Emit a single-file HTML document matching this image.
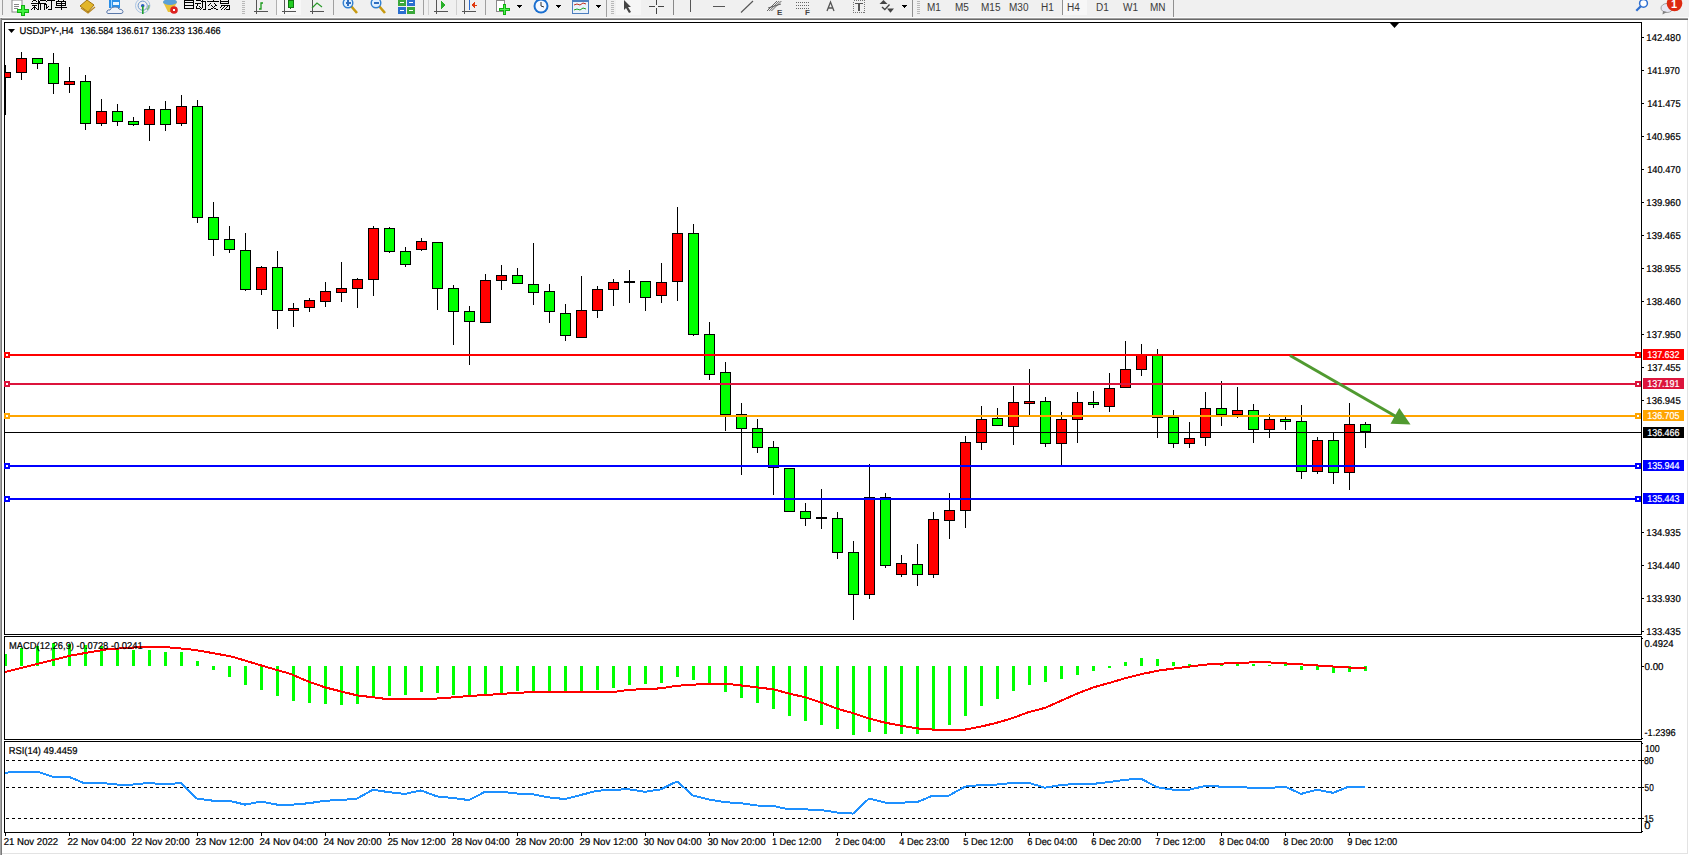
<!DOCTYPE html><html><head><meta charset="utf-8"><style>html,body{margin:0;padding:0;background:#fff;overflow:hidden}svg{display:block}text{font-family:"Liberation Sans",sans-serif}</style></head><body>
<svg width="1689" height="855" viewBox="0 0 1689 855" shape-rendering="crispEdges">
<rect x="0" y="0" width="1689" height="855" fill="#ffffff"/>
<rect x="0" y="0" width="1689" height="17" fill="#f0f0f0"/>
<rect x="0" y="17" width="1689" height="1" fill="#fbfbfb"/>
<rect x="0" y="18" width="1688" height="1" fill="#a0a0a0"/>
<rect x="0" y="19" width="1688" height="1" fill="#6a6a6a"/>
<rect x="0" y="18" width="1" height="837" fill="#a4a4a4"/>
<rect x="1" y="18" width="1" height="837" fill="#7a7a7a"/>
<rect x="1687" y="20" width="1" height="834" fill="#e3e3e3"/>
<rect x="2" y="853" width="1686" height="1" fill="#e3e3e3"/>
<g><rect x="2" y="0" width="1" height="15" fill="#a0a0a0"/><rect x="12" y="0" width="10" height="12" fill="#fff" stroke="#8a8a8a" stroke-width="1" shape-rendering="auto"/><rect x="14" y="4" width="5" height="1" fill="#888"/><rect x="14" y="6" width="5" height="1" fill="#888"/><rect x="14" y="8" width="4" height="1" fill="#888"/><rect x="21" y="5" width="4" height="11" fill="#10b010"/><rect x="17" y="9" width="12" height="4" fill="#10b010"/><rect x="22" y="6" width="2" height="9" fill="#40f040"/><rect x="18" y="10" width="10" height="2" fill="#40f040"/><rect x="33" y="0" width="3" height="1" fill="#000"/><rect x="32" y="1" width="1" height="1" fill="#000"/><rect x="36" y="1" width="1" height="1" fill="#000"/><rect x="31" y="3" width="7" height="1" fill="#000"/><rect x="32" y="5" width="5" height="1" fill="#000"/><rect x="34" y="5" width="1" height="5" fill="#000"/><rect x="33" y="7" width="1" height="1" fill="#000"/><rect x="32" y="8" width="1" height="1" fill="#000"/><rect x="31" y="9" width="1" height="1" fill="#000"/><rect x="35" y="7" width="1" height="1" fill="#000"/><rect x="36" y="8" width="1" height="1" fill="#000"/><rect x="37" y="9" width="1" height="1" fill="#000"/><rect x="38" y="0" width="1" height="10" fill="#000"/><rect x="40" y="0" width="5" height="1" fill="#000"/><rect x="38" y="3" width="8" height="1" fill="#000"/><rect x="40" y="4" width="1" height="6" fill="#000"/><rect x="44" y="3" width="1" height="7" fill="#000"/><rect x="39" y="1" width="1" height="1" fill="#000"/><rect x="39" y="2" width="1" height="1" fill="#000"/><rect x="45" y="0" width="1" height="1" fill="#000"/><rect x="46" y="1" width="1" height="1" fill="#000"/><rect x="45" y="4" width="2" height="1" fill="#000"/><rect x="46" y="4" width="1" height="5" fill="#000"/><rect x="47" y="7" width="1" height="1" fill="#000"/><rect x="48" y="6" width="1" height="1" fill="#000"/><rect x="47" y="0" width="8" height="1" fill="#000"/><rect x="51" y="0" width="1" height="10" fill="#000"/><rect x="48" y="9" width="3" height="1" fill="#000"/><rect x="58" y="0" width="1" height="1" fill="#000"/><rect x="63" y="0" width="1" height="1" fill="#000"/><rect x="56" y="1" width="10" height="1" fill="#000"/><rect x="56" y="3" width="10" height="1" fill="#000"/><rect x="56" y="5" width="10" height="1" fill="#000"/><rect x="56" y="1" width="1" height="5" fill="#000"/><rect x="65" y="1" width="1" height="5" fill="#000"/><rect x="61" y="1" width="1" height="9" fill="#000"/><rect x="55" y="7" width="12" height="1" fill="#000"/><rect x="184" y="0" width="1" height="9" fill="#000"/><rect x="193" y="0" width="1" height="9" fill="#000"/><rect x="185" y="0" width="8" height="1" fill="#000"/><rect x="185" y="2" width="8" height="1" fill="#000"/><rect x="185" y="5" width="8" height="1" fill="#000"/><rect x="185" y="8" width="8" height="1" fill="#000"/><rect x="196" y="0" width="5" height="1" fill="#000"/><rect x="195" y="3" width="6" height="1" fill="#000"/><rect x="197" y="4" width="1" height="1" fill="#000"/><rect x="197" y="5" width="1" height="1" fill="#000"/><rect x="196" y="6" width="1" height="1" fill="#000"/><rect x="196" y="7" width="1" height="1" fill="#000"/><rect x="196" y="8" width="4" height="1" fill="#000"/><rect x="199" y="6" width="1" height="1" fill="#000"/><rect x="200" y="7" width="1" height="1" fill="#000"/><rect x="201" y="1" width="5" height="1" fill="#000"/><rect x="205" y="1" width="1" height="8" fill="#000"/><rect x="203" y="9" width="3" height="1" fill="#000"/><rect x="202" y="0" width="1" height="7" fill="#000"/><rect x="202" y="7" width="1" height="1" fill="#000"/><rect x="201" y="8" width="1" height="1" fill="#000"/><rect x="200" y="9" width="1" height="1" fill="#000"/><rect x="213" y="0" width="1" height="1" fill="#000"/><rect x="207" y="1" width="12" height="1" fill="#000"/><rect x="210" y="3" width="1" height="1" fill="#000"/><rect x="209" y="4" width="1" height="1" fill="#000"/><rect x="208" y="5" width="1" height="1" fill="#000"/><rect x="214" y="3" width="1" height="1" fill="#000"/><rect x="215" y="4" width="1" height="1" fill="#000"/><rect x="216" y="5" width="1" height="1" fill="#000"/><rect x="211" y="5" width="1" height="1" fill="#000"/><rect x="212" y="6" width="1" height="1" fill="#000"/><rect x="213" y="7" width="1" height="1" fill="#000"/><rect x="214" y="8" width="1" height="1" fill="#000"/><rect x="215" y="8" width="1" height="1" fill="#000"/><rect x="216" y="9" width="1" height="1" fill="#000"/><rect x="217" y="9" width="1" height="1" fill="#000"/><rect x="215" y="5" width="1" height="1" fill="#000"/><rect x="214" y="6" width="1" height="1" fill="#000"/><rect x="213" y="7" width="1" height="1" fill="#000"/><rect x="212" y="8" width="1" height="1" fill="#000"/><rect x="211" y="8" width="1" height="1" fill="#000"/><rect x="210" y="9" width="1" height="1" fill="#000"/><rect x="209" y="9" width="1" height="1" fill="#000"/><rect x="208" y="9" width="1" height="1" fill="#000"/><rect x="220" y="0" width="1" height="4" fill="#000"/><rect x="228" y="0" width="1" height="4" fill="#000"/><rect x="221" y="1" width="7" height="1" fill="#000"/><rect x="221" y="3" width="7" height="1" fill="#000"/><rect x="221" y="5" width="9" height="1" fill="#000"/><rect x="229" y="5" width="1" height="5" fill="#000"/><rect x="226" y="9" width="3" height="1" fill="#000"/><rect x="221" y="6" width="1" height="1" fill="#000"/><rect x="220" y="7" width="1" height="1" fill="#000"/><rect x="224" y="6" width="1" height="1" fill="#000"/><rect x="223" y="7" width="1" height="1" fill="#000"/><rect x="222" y="8" width="1" height="1" fill="#000"/><rect x="221" y="9" width="1" height="1" fill="#000"/><rect x="227" y="6" width="1" height="1" fill="#000"/><rect x="226" y="7" width="1" height="1" fill="#000"/><rect x="225" y="8" width="1" height="1" fill="#000"/><rect x="224" y="9" width="1" height="1" fill="#000"/><path d="M80 6 L87 0 L94 5 L88 12 Z" fill="#e2b629" stroke="#a37512" stroke-width="1" shape-rendering="auto"/><path d="M81 8 L88 13 L95 7" fill="none" stroke="#b8861c" stroke-width="1.2" shape-rendering="auto"/><rect x="109" y="0" width="11" height="8" fill="#2a8ee8" shape-rendering="auto"/><rect x="111" y="0" width="1" height="8" fill="#9fd3ff"/><rect x="113" y="2" width="6" height="3" fill="#e8f4ff"/><path d="M108 13.5 Q106 13 107 11 Q108 9.5 110 10 Q111 6.5 115 7 Q118 6.5 119 9 Q122.5 9 123 11.5 Q123 13.5 121 13.5 Z" fill="#eef1f8" stroke="#5a78a8" stroke-width="1" shape-rendering="auto"/><circle cx="142.7" cy="5.7" r="7.2" fill="none" stroke="#a9c4e4" stroke-width="1" shape-rendering="auto"/><circle cx="142.7" cy="5.7" r="4.6" fill="none" stroke="#6e98cc" stroke-width="1" shape-rendering="auto"/><circle cx="142.7" cy="5.7" r="1.8" fill="#2a5fc0" shape-rendering="auto"/><path d="M147 10 A6 6 0 0 0 149 5" fill="none" stroke="#7cb87c" stroke-width="1.5" shape-rendering="auto"/><rect x="142" y="6" width="1.6" height="8" fill="#22a030" shape-rendering="auto"/><path d="M163 2 Q170 -2 177 2 L172 12 L168 12 Z" fill="#e8c23a" shape-rendering="auto"/><ellipse cx="170" cy="2" rx="7" ry="3" fill="#5aa0d8" shape-rendering="auto"/><circle cx="174" cy="10" r="3.8" fill="#dd2222" shape-rendering="auto"/><rect x="173" y="9" width="2.4" height="2.4" fill="#fff"/><rect x="242" y="1" width="3" height="1" fill="#b8b8b8"/><rect x="242" y="3" width="3" height="1" fill="#b8b8b8"/><rect x="242" y="5" width="3" height="1" fill="#b8b8b8"/><rect x="242" y="7" width="3" height="1" fill="#b8b8b8"/><rect x="242" y="9" width="3" height="1" fill="#b8b8b8"/><rect x="242" y="11" width="3" height="1" fill="#b8b8b8"/><rect x="242" y="13" width="3" height="1" fill="#b8b8b8"/><rect x="256" y="0" width="1" height="14" fill="#555"/><rect x="254" y="11" width="14" height="1" fill="#555"/><path d="M259 9 L261 9 L261 3 L263 3" fill="none" stroke="#1a9a1a" stroke-width="1.3" shape-rendering="auto"/><rect x="276" y="0" width="1" height="15" fill="#b0b0b0"/><rect x="277" y="0" width="24" height="15" fill="#f7f7f7"/><rect x="284" y="0" width="1" height="14" fill="#555"/><rect x="282" y="11" width="14" height="1" fill="#555"/><rect x="288" y="0" width="5" height="7" fill="#22cc22" stroke="#117711" stroke-width="1"/><rect x="290" y="7" width="1" height="2" fill="#117711"/><rect x="312" y="0" width="1" height="14" fill="#555"/><rect x="310" y="11" width="14" height="1" fill="#555"/><path d="M312 8 L317 3 L322 7" fill="none" stroke="#2a9a2a" stroke-width="1.2" shape-rendering="auto"/><rect x="333" y="0" width="1" height="15" fill="#a0a0a0"/><line x1="351" y1="6" x2="357" y2="13" stroke="#c79a10" stroke-width="2.6" shape-rendering="auto"/><circle cx="348" cy="3" r="4.8" fill="#dff0ff" stroke="#2f7fd0" stroke-width="1.4" shape-rendering="auto"/><rect x="345.5" y="2.3" width="5" height="1.4" fill="#2f6fc0"/><rect x="347.3" y="0" width="1.4" height="5.5" fill="#2f6fc0"/><line x1="379" y1="6" x2="385" y2="13" stroke="#c79a10" stroke-width="2.6" shape-rendering="auto"/><circle cx="376" cy="3" r="4.8" fill="#dff0ff" stroke="#2f7fd0" stroke-width="1.4" shape-rendering="auto"/><rect x="373.5" y="2.3" width="5" height="1.4" fill="#2f6fc0"/><rect x="398" y="0" width="8" height="6" fill="#3ba83b"/><rect x="407" y="0" width="8" height="6" fill="#2b6fd0"/><rect x="398" y="7" width="8" height="7" fill="#2b6fd0"/><rect x="407" y="7" width="8" height="7" fill="#3ba83b"/><rect x="400" y="2" width="4" height="1" fill="#fff"/><rect x="409" y="2" width="4" height="1" fill="#fff"/><rect x="400" y="10" width="4" height="1" fill="#fff"/><rect x="409" y="10" width="4" height="1" fill="#fff"/><rect x="423" y="0" width="1" height="15" fill="#a0a0a0"/><rect x="428" y="0" width="1" height="15" fill="#d0d0d0"/><rect x="436" y="0" width="1" height="14" fill="#555"/><rect x="434" y="11" width="14" height="1" fill="#555"/><path d="M441 1 L446 5 L441 9 Z" fill="#2ab02a"/><rect x="456" y="0" width="1" height="15" fill="#d0d0d0"/><rect x="464" y="0" width="1" height="14" fill="#555"/><rect x="462" y="11" width="14" height="1" fill="#555"/><rect x="469" y="0" width="1" height="10" fill="#2a6ad0"/><path d="M471 5 L475 2 L475 8 Z" fill="#e03a10"/><rect x="473" y="4.5" width="4" height="1" fill="#e03a10"/><rect x="485" y="0" width="1" height="15" fill="#a0a0a0"/><rect x="496" y="0" width="8" height="11" fill="#fff" stroke="#8a8a8a" stroke-width="1"/><rect x="503" y="4" width="3" height="11" fill="#10b010"/><rect x="499" y="8" width="11" height="3" fill="#10b010"/><rect x="504" y="5" width="1" height="9" fill="#50f050"/><rect x="500" y="9" width="9" height="1" fill="#50f050"/><path d="M516 5 L522 5 L519 8 Z" fill="#000"/><circle cx="541" cy="6" r="7.5" fill="#1a6fd0" shape-rendering="auto"/><circle cx="541" cy="6" r="5.5" fill="#f4f8ff" shape-rendering="auto"/><path d="M541 2 L541 6 L544 7" fill="none" stroke="#333" stroke-width="1" shape-rendering="auto"/><path d="M555 5 L561 5 L558 8 Z" fill="#000"/><rect x="572" y="0" width="16" height="13" fill="#eaf2fb" stroke="#4d7fbf" stroke-width="1"/><rect x="572" y="0" width="16" height="2" fill="#4d7fbf"/><path d="M574 5 L577 4 L580 5 L583 3 L586 4" fill="none" stroke="#c03020" stroke-width="1" shape-rendering="auto"/><path d="M574 10 L577 9 L580 10 L583 8 L586 9" fill="none" stroke="#20a020" stroke-width="1" shape-rendering="auto"/><path d="M595 5 L601 5 L598 8 Z" fill="#000"/><rect x="606" y="0" width="1" height="17" fill="#a0a0a0"/><rect x="611" y="1" width="3" height="1" fill="#b8b8b8"/><rect x="611" y="3" width="3" height="1" fill="#b8b8b8"/><rect x="611" y="5" width="3" height="1" fill="#b8b8b8"/><rect x="611" y="7" width="3" height="1" fill="#b8b8b8"/><rect x="611" y="9" width="3" height="1" fill="#b8b8b8"/><rect x="611" y="11" width="3" height="1" fill="#b8b8b8"/><rect x="611" y="13" width="3" height="1" fill="#b8b8b8"/><rect x="616" y="0" width="25" height="15" fill="#f6f6f6"/><path d="M624 0 L624 10 L626 8 L629 13 L631 12 L628 7 L631 7 Z" fill="#444" shape-rendering="auto"/><rect x="649" y="6" width="6" height="1" fill="#444"/><rect x="658" y="6" width="6" height="1" fill="#444"/><rect x="656" y="0" width="1" height="5" fill="#444"/><rect x="656" y="8" width="1" height="6" fill="#444"/><rect x="673" y="0" width="1" height="15" fill="#888"/><rect x="690" y="0" width="1" height="12" fill="#555"/><rect x="713" y="6" width="12" height="1" fill="#555"/><line x1="741" y1="12.5" x2="753" y2="1" stroke="#555" stroke-width="1.1" shape-rendering="auto"/><line x1="767.0" y1="11" x2="777.0" y2="1" stroke="#555" stroke-width="0.9" shape-rendering="auto"/><line x1="769.2" y1="11" x2="779.2" y2="1" stroke="#555" stroke-width="0.9" shape-rendering="auto"/><line x1="771.4" y1="11" x2="781.4" y2="1" stroke="#555" stroke-width="0.9" shape-rendering="auto"/><line x1="768" y1="8" x2="781" y2="4" stroke="#555" stroke-width="0.9" shape-rendering="auto"/><text x="777" y="15" font-size="8" font-weight="bold" fill="#444">E</text><line x1="796" y1="2.5" x2="809" y2="2.5" stroke="#666" stroke-width="1" stroke-dasharray="1,1"/><line x1="796" y1="5.5" x2="809" y2="5.5" stroke="#666" stroke-width="1" stroke-dasharray="1,1"/><line x1="796" y1="8.5" x2="809" y2="8.5" stroke="#666" stroke-width="1" stroke-dasharray="1,1"/><text x="805" y="15" font-size="8" font-weight="bold" fill="#444">F</text><path d="M827 11 L830.5 2 L834 11 M828.3 8 L832.7 8" fill="none" stroke="#555" stroke-width="1.3" shape-rendering="auto"/><rect x="853.5" y="0.5" width="11" height="12" fill="none" stroke="#777" stroke-width="1" stroke-dasharray="1,1"/><rect x="855" y="3" width="8" height="1.4" fill="#555"/><rect x="858.3" y="3" width="1.6" height="8" fill="#555"/><path d="M883.5 0 L887.5 4 L879.5 4 Z" fill="#444" shape-rendering="auto"/><path d="M882 7 L884.8 9.6 L889.5 4.5" fill="none" stroke="#444" stroke-width="1.4" shape-rendering="auto"/><path d="M887 8.5 L894 8.5 L890.5 12.8 Z" fill="#444" shape-rendering="auto"/><path d="M901 5 L907 5 L904 8 Z" fill="#000"/><rect x="912" y="0" width="1" height="17" fill="#909090"/><rect x="917" y="1" width="3" height="1" fill="#b8b8b8"/><rect x="917" y="3" width="3" height="1" fill="#b8b8b8"/><rect x="917" y="5" width="3" height="1" fill="#b8b8b8"/><rect x="917" y="7" width="3" height="1" fill="#b8b8b8"/><rect x="917" y="9" width="3" height="1" fill="#b8b8b8"/><rect x="917" y="11" width="3" height="1" fill="#b8b8b8"/><rect x="917" y="13" width="3" height="1" fill="#b8b8b8"/><rect x="1062" y="0" width="1" height="15" fill="#909090"/><rect x="1063" y="0" width="24" height="15" fill="#f7f7f7"/><text x="927" y="10.5" font-size="10" fill="#3a3a3a">M1</text><text x="955" y="10.5" font-size="10" fill="#3a3a3a">M5</text><text x="981" y="10.5" font-size="10" fill="#3a3a3a">M15</text><text x="1009" y="10.5" font-size="10" fill="#3a3a3a">M30</text><text x="1041" y="10.5" font-size="10" fill="#3a3a3a">H1</text><text x="1067" y="10.5" font-size="10" fill="#3a3a3a">H4</text><text x="1096" y="10.5" font-size="10" fill="#3a3a3a">D1</text><text x="1123" y="10.5" font-size="10" fill="#3a3a3a">W1</text><text x="1150" y="10.5" font-size="10" fill="#3a3a3a">MN</text><rect x="1173" y="0" width="1" height="17" fill="#909090"/><circle cx="1643.5" cy="3.3" r="3.9" fill="#fff" stroke="#2f6fd0" stroke-width="1.5" shape-rendering="auto"/><line x1="1640.8" y1="6.2" x2="1636.3" y2="10.8" stroke="#2f6fd0" stroke-width="2.2" shape-rendering="auto"/><ellipse cx="1667" cy="8" rx="6" ry="4.5" fill="#e6e6f2" stroke="#a0a0a0" stroke-width="1" shape-rendering="auto"/><path d="M1663 11 L1662.5 14.5 L1667 12 Z" fill="#808080" shape-rendering="auto"/><circle cx="1674.5" cy="3.5" r="7.8" fill="#dd2a10" shape-rendering="auto"/><text x="1671" y="7.5" font-family="Liberation Serif" font-size="11" font-weight="bold" fill="#fff">1</text></g>
<rect x="4" y="22" width="1638" height="1" fill="#000"/>
<rect x="4" y="634" width="1638" height="1" fill="#000"/>
<rect x="4" y="22" width="1" height="613" fill="#000"/>
<rect x="1641" y="22" width="1" height="613" fill="#000"/>
<rect x="4" y="636" width="1638" height="1" fill="#000"/>
<rect x="4" y="739" width="1638" height="1" fill="#000"/>
<rect x="4" y="636" width="1" height="104" fill="#000"/>
<rect x="1641" y="636" width="1" height="104" fill="#000"/>
<rect x="4" y="741" width="1638" height="1" fill="#000"/>
<rect x="4" y="832" width="1638" height="1" fill="#000"/>
<rect x="4" y="741" width="1" height="92" fill="#000"/>
<rect x="1641" y="741" width="1" height="92" fill="#000"/>
<rect x="1642" y="638" width="1" height="1" fill="#000"/>
<rect x="1642" y="738" width="1" height="1" fill="#000"/>
<rect x="1642" y="743" width="1" height="1" fill="#000"/>
<rect x="1642" y="831" width="1" height="1" fill="#000"/>
<path d="M1390 23 L1399 23 L1394.5 28 Z" fill="#000" shape-rendering="auto"/>
<defs><clipPath id="cm"><rect x="5" y="23" width="1636" height="611"/></clipPath><clipPath id="cmacd"><rect x="5" y="637" width="1636" height="102"/></clipPath><clipPath id="crsi"><rect x="5" y="742" width="1636" height="90"/></clipPath></defs>
<g clip-path="url(#cm)"><rect x="5" y="65" width="1" height="50" fill="#000"/><rect x="0" y="72" width="11" height="6" fill="#000"/><rect x="1" y="73" width="9" height="4" fill="#ff0000"/><rect x="21" y="52" width="1" height="28" fill="#000"/><rect x="16" y="58" width="11" height="15" fill="#000"/><rect x="17" y="59" width="9" height="13" fill="#ff0000"/><rect x="37" y="58" width="1" height="11" fill="#000"/><rect x="32" y="58" width="11" height="6" fill="#000"/><rect x="33" y="59" width="9" height="4" fill="#00ff00"/><rect x="53" y="53" width="1" height="41" fill="#000"/><rect x="48" y="63" width="11" height="21" fill="#000"/><rect x="49" y="64" width="9" height="19" fill="#00ff00"/><rect x="69" y="67" width="1" height="26" fill="#000"/><rect x="64" y="81" width="11" height="4" fill="#000"/><rect x="65" y="82" width="9" height="2" fill="#ff0000"/><rect x="85" y="75" width="1" height="55" fill="#000"/><rect x="80" y="81" width="11" height="43" fill="#000"/><rect x="81" y="82" width="9" height="41" fill="#00ff00"/><rect x="101" y="99" width="1" height="27" fill="#000"/><rect x="96" y="111" width="11" height="13" fill="#000"/><rect x="97" y="112" width="9" height="11" fill="#ff0000"/><rect x="117" y="104" width="1" height="22" fill="#000"/><rect x="112" y="111" width="11" height="11" fill="#000"/><rect x="113" y="112" width="9" height="9" fill="#00ff00"/><rect x="133" y="117" width="1" height="9" fill="#000"/><rect x="128" y="121" width="11" height="4" fill="#000"/><rect x="129" y="122" width="9" height="2" fill="#00ff00"/><rect x="149" y="106" width="1" height="35" fill="#000"/><rect x="144" y="109" width="11" height="16" fill="#000"/><rect x="145" y="110" width="9" height="14" fill="#ff0000"/><rect x="165" y="101" width="1" height="30" fill="#000"/><rect x="160" y="109" width="11" height="16" fill="#000"/><rect x="161" y="110" width="9" height="14" fill="#00ff00"/><rect x="181" y="95" width="1" height="31" fill="#000"/><rect x="176" y="106" width="11" height="18" fill="#000"/><rect x="177" y="107" width="9" height="16" fill="#ff0000"/><rect x="197" y="100" width="1" height="123" fill="#000"/><rect x="192" y="106" width="11" height="112" fill="#000"/><rect x="193" y="107" width="9" height="110" fill="#00ff00"/><rect x="213" y="202" width="1" height="54" fill="#000"/><rect x="208" y="217" width="11" height="23" fill="#000"/><rect x="209" y="218" width="9" height="21" fill="#00ff00"/><rect x="229" y="226" width="1" height="27" fill="#000"/><rect x="224" y="239" width="11" height="11" fill="#000"/><rect x="225" y="240" width="9" height="9" fill="#00ff00"/><rect x="245" y="233" width="1" height="58" fill="#000"/><rect x="240" y="250" width="11" height="40" fill="#000"/><rect x="241" y="251" width="9" height="38" fill="#00ff00"/><rect x="261" y="266" width="1" height="29" fill="#000"/><rect x="256" y="267" width="11" height="23" fill="#000"/><rect x="257" y="268" width="9" height="21" fill="#ff0000"/><rect x="277" y="251" width="1" height="78" fill="#000"/><rect x="272" y="267" width="11" height="44" fill="#000"/><rect x="273" y="268" width="9" height="42" fill="#00ff00"/><rect x="293" y="303" width="1" height="24" fill="#000"/><rect x="288" y="308" width="11" height="3" fill="#000"/><rect x="289" y="309" width="9" height="1" fill="#ff0000"/><rect x="309" y="298" width="1" height="14" fill="#000"/><rect x="304" y="300" width="11" height="8" fill="#000"/><rect x="305" y="301" width="9" height="6" fill="#ff0000"/><rect x="325" y="282" width="1" height="25" fill="#000"/><rect x="320" y="291" width="11" height="11" fill="#000"/><rect x="321" y="292" width="9" height="9" fill="#ff0000"/><rect x="341" y="262" width="1" height="40" fill="#000"/><rect x="336" y="288" width="11" height="5" fill="#000"/><rect x="337" y="289" width="9" height="3" fill="#ff0000"/><rect x="357" y="278" width="1" height="30" fill="#000"/><rect x="352" y="279" width="11" height="10" fill="#000"/><rect x="353" y="280" width="9" height="8" fill="#ff0000"/><rect x="373" y="226" width="1" height="70" fill="#000"/><rect x="368" y="228" width="11" height="52" fill="#000"/><rect x="369" y="229" width="9" height="50" fill="#ff0000"/><rect x="389" y="227" width="1" height="26" fill="#000"/><rect x="384" y="228" width="11" height="24" fill="#000"/><rect x="385" y="229" width="9" height="22" fill="#00ff00"/><rect x="405" y="247" width="1" height="20" fill="#000"/><rect x="400" y="251" width="11" height="14" fill="#000"/><rect x="401" y="252" width="9" height="12" fill="#00ff00"/><rect x="421" y="238" width="1" height="13" fill="#000"/><rect x="416" y="241" width="11" height="9" fill="#000"/><rect x="417" y="242" width="9" height="7" fill="#ff0000"/><rect x="437" y="242" width="1" height="68" fill="#000"/><rect x="432" y="242" width="11" height="47" fill="#000"/><rect x="433" y="243" width="9" height="45" fill="#00ff00"/><rect x="453" y="285" width="1" height="60" fill="#000"/><rect x="448" y="288" width="11" height="24" fill="#000"/><rect x="449" y="289" width="9" height="22" fill="#00ff00"/><rect x="469" y="306" width="1" height="59" fill="#000"/><rect x="464" y="311" width="11" height="11" fill="#000"/><rect x="465" y="312" width="9" height="9" fill="#00ff00"/><rect x="485" y="274" width="1" height="49" fill="#000"/><rect x="480" y="280" width="11" height="43" fill="#000"/><rect x="481" y="281" width="9" height="41" fill="#ff0000"/><rect x="501" y="265" width="1" height="25" fill="#000"/><rect x="496" y="275" width="11" height="6" fill="#000"/><rect x="497" y="276" width="9" height="4" fill="#ff0000"/><rect x="517" y="268" width="1" height="16" fill="#000"/><rect x="512" y="275" width="11" height="9" fill="#000"/><rect x="513" y="276" width="9" height="7" fill="#00ff00"/><rect x="533" y="243" width="1" height="62" fill="#000"/><rect x="528" y="284" width="11" height="9" fill="#000"/><rect x="529" y="285" width="9" height="7" fill="#00ff00"/><rect x="549" y="284" width="1" height="39" fill="#000"/><rect x="544" y="291" width="11" height="21" fill="#000"/><rect x="545" y="292" width="9" height="19" fill="#00ff00"/><rect x="565" y="304" width="1" height="37" fill="#000"/><rect x="560" y="313" width="11" height="23" fill="#000"/><rect x="561" y="314" width="9" height="21" fill="#00ff00"/><rect x="581" y="276" width="1" height="62" fill="#000"/><rect x="576" y="310" width="11" height="28" fill="#000"/><rect x="577" y="311" width="9" height="26" fill="#ff0000"/><rect x="597" y="286" width="1" height="32" fill="#000"/><rect x="592" y="289" width="11" height="22" fill="#000"/><rect x="593" y="290" width="9" height="20" fill="#ff0000"/><rect x="613" y="279" width="1" height="27" fill="#000"/><rect x="608" y="282" width="11" height="8" fill="#000"/><rect x="609" y="283" width="9" height="6" fill="#ff0000"/><rect x="629" y="270" width="1" height="33" fill="#000"/><rect x="624" y="281" width="11" height="2" fill="#000"/><rect x="645" y="281" width="1" height="30" fill="#000"/><rect x="640" y="281" width="11" height="17" fill="#000"/><rect x="641" y="282" width="9" height="15" fill="#00ff00"/><rect x="661" y="263" width="1" height="40" fill="#000"/><rect x="656" y="282" width="11" height="14" fill="#000"/><rect x="657" y="283" width="9" height="12" fill="#ff0000"/><rect x="677" y="207" width="1" height="94" fill="#000"/><rect x="672" y="233" width="11" height="49" fill="#000"/><rect x="673" y="234" width="9" height="47" fill="#ff0000"/><rect x="693" y="224" width="1" height="112" fill="#000"/><rect x="688" y="233" width="11" height="102" fill="#000"/><rect x="689" y="234" width="9" height="100" fill="#00ff00"/><rect x="709" y="322" width="1" height="58" fill="#000"/><rect x="704" y="334" width="11" height="41" fill="#000"/><rect x="705" y="335" width="9" height="39" fill="#00ff00"/><rect x="725" y="362" width="1" height="69" fill="#000"/><rect x="720" y="372" width="11" height="43" fill="#000"/><rect x="721" y="373" width="9" height="41" fill="#00ff00"/><rect x="741" y="403" width="1" height="72" fill="#000"/><rect x="736" y="414" width="11" height="15" fill="#000"/><rect x="737" y="415" width="9" height="13" fill="#00ff00"/><rect x="757" y="419" width="1" height="34" fill="#000"/><rect x="752" y="428" width="11" height="20" fill="#000"/><rect x="753" y="429" width="9" height="18" fill="#00ff00"/><rect x="773" y="441" width="1" height="54" fill="#000"/><rect x="768" y="447" width="11" height="21" fill="#000"/><rect x="769" y="448" width="9" height="19" fill="#00ff00"/><rect x="789" y="468" width="1" height="44" fill="#000"/><rect x="784" y="468" width="11" height="44" fill="#000"/><rect x="785" y="469" width="9" height="42" fill="#00ff00"/><rect x="805" y="503" width="1" height="23" fill="#000"/><rect x="800" y="511" width="11" height="8" fill="#000"/><rect x="801" y="512" width="9" height="6" fill="#00ff00"/><rect x="821" y="489" width="1" height="40" fill="#000"/><rect x="816" y="517" width="11" height="2" fill="#000"/><rect x="837" y="512" width="1" height="47" fill="#000"/><rect x="832" y="518" width="11" height="35" fill="#000"/><rect x="833" y="519" width="9" height="33" fill="#00ff00"/><rect x="853" y="541" width="1" height="79" fill="#000"/><rect x="848" y="552" width="11" height="43" fill="#000"/><rect x="849" y="553" width="9" height="41" fill="#00ff00"/><rect x="869" y="464" width="1" height="135" fill="#000"/><rect x="864" y="497" width="11" height="98" fill="#000"/><rect x="865" y="498" width="9" height="96" fill="#ff0000"/><rect x="885" y="493" width="1" height="75" fill="#000"/><rect x="880" y="497" width="11" height="69" fill="#000"/><rect x="881" y="498" width="9" height="67" fill="#00ff00"/><rect x="901" y="555" width="1" height="22" fill="#000"/><rect x="896" y="563" width="11" height="12" fill="#000"/><rect x="897" y="564" width="9" height="10" fill="#ff0000"/><rect x="917" y="544" width="1" height="42" fill="#000"/><rect x="912" y="564" width="11" height="11" fill="#000"/><rect x="913" y="565" width="9" height="9" fill="#00ff00"/><rect x="933" y="512" width="1" height="66" fill="#000"/><rect x="928" y="519" width="11" height="56" fill="#000"/><rect x="929" y="520" width="9" height="54" fill="#ff0000"/><rect x="949" y="493" width="1" height="46" fill="#000"/><rect x="944" y="510" width="11" height="11" fill="#000"/><rect x="945" y="511" width="9" height="9" fill="#ff0000"/><rect x="965" y="436" width="1" height="92" fill="#000"/><rect x="960" y="442" width="11" height="69" fill="#000"/><rect x="961" y="443" width="9" height="67" fill="#ff0000"/><rect x="981" y="406" width="1" height="44" fill="#000"/><rect x="976" y="419" width="11" height="24" fill="#000"/><rect x="977" y="420" width="9" height="22" fill="#ff0000"/><rect x="997" y="408" width="1" height="18" fill="#000"/><rect x="992" y="418" width="11" height="8" fill="#000"/><rect x="993" y="419" width="9" height="6" fill="#00ff00"/><rect x="1013" y="386" width="1" height="59" fill="#000"/><rect x="1008" y="402" width="11" height="25" fill="#000"/><rect x="1009" y="403" width="9" height="23" fill="#ff0000"/><rect x="1029" y="369" width="1" height="46" fill="#000"/><rect x="1024" y="401" width="11" height="3" fill="#000"/><rect x="1025" y="402" width="9" height="1" fill="#ff0000"/><rect x="1045" y="397" width="1" height="50" fill="#000"/><rect x="1040" y="401" width="11" height="43" fill="#000"/><rect x="1041" y="402" width="9" height="41" fill="#00ff00"/><rect x="1061" y="412" width="1" height="53" fill="#000"/><rect x="1056" y="419" width="11" height="25" fill="#000"/><rect x="1057" y="420" width="9" height="23" fill="#ff0000"/><rect x="1077" y="392" width="1" height="51" fill="#000"/><rect x="1072" y="402" width="11" height="18" fill="#000"/><rect x="1073" y="403" width="9" height="16" fill="#ff0000"/><rect x="1093" y="391" width="1" height="17" fill="#000"/><rect x="1088" y="402" width="11" height="3" fill="#000"/><rect x="1089" y="403" width="9" height="1" fill="#00ff00"/><rect x="1109" y="373" width="1" height="39" fill="#000"/><rect x="1104" y="388" width="11" height="19" fill="#000"/><rect x="1105" y="389" width="9" height="17" fill="#ff0000"/><rect x="1125" y="341" width="1" height="47" fill="#000"/><rect x="1120" y="369" width="11" height="19" fill="#000"/><rect x="1121" y="370" width="9" height="17" fill="#ff0000"/><rect x="1141" y="344" width="1" height="32" fill="#000"/><rect x="1136" y="355" width="11" height="15" fill="#000"/><rect x="1137" y="356" width="9" height="13" fill="#ff0000"/><rect x="1157" y="349" width="1" height="89" fill="#000"/><rect x="1152" y="355" width="11" height="63" fill="#000"/><rect x="1153" y="356" width="9" height="61" fill="#00ff00"/><rect x="1173" y="410" width="1" height="38" fill="#000"/><rect x="1168" y="417" width="11" height="27" fill="#000"/><rect x="1169" y="418" width="9" height="25" fill="#00ff00"/><rect x="1189" y="422" width="1" height="26" fill="#000"/><rect x="1184" y="438" width="11" height="6" fill="#000"/><rect x="1185" y="439" width="9" height="4" fill="#ff0000"/><rect x="1205" y="392" width="1" height="54" fill="#000"/><rect x="1200" y="408" width="11" height="30" fill="#000"/><rect x="1201" y="409" width="9" height="28" fill="#ff0000"/><rect x="1221" y="381" width="1" height="45" fill="#000"/><rect x="1216" y="408" width="11" height="7" fill="#000"/><rect x="1217" y="409" width="9" height="5" fill="#00ff00"/><rect x="1237" y="387" width="1" height="31" fill="#000"/><rect x="1232" y="410" width="11" height="5" fill="#000"/><rect x="1233" y="411" width="9" height="3" fill="#ff0000"/><rect x="1253" y="404" width="1" height="39" fill="#000"/><rect x="1248" y="410" width="11" height="20" fill="#000"/><rect x="1249" y="411" width="9" height="18" fill="#00ff00"/><rect x="1269" y="414" width="1" height="24" fill="#000"/><rect x="1264" y="419" width="11" height="11" fill="#000"/><rect x="1265" y="420" width="9" height="9" fill="#ff0000"/><rect x="1285" y="417" width="1" height="13" fill="#000"/><rect x="1280" y="419" width="11" height="3" fill="#000"/><rect x="1281" y="420" width="9" height="1" fill="#00ff00"/><rect x="1301" y="405" width="1" height="74" fill="#000"/><rect x="1296" y="421" width="11" height="51" fill="#000"/><rect x="1297" y="422" width="9" height="49" fill="#00ff00"/><rect x="1317" y="437" width="1" height="37" fill="#000"/><rect x="1312" y="440" width="11" height="32" fill="#000"/><rect x="1313" y="441" width="9" height="30" fill="#ff0000"/><rect x="1333" y="432" width="1" height="52" fill="#000"/><rect x="1328" y="440" width="11" height="33" fill="#000"/><rect x="1329" y="441" width="9" height="31" fill="#00ff00"/><rect x="1349" y="403" width="1" height="87" fill="#000"/><rect x="1344" y="424" width="11" height="49" fill="#000"/><rect x="1345" y="425" width="9" height="47" fill="#ff0000"/><rect x="1365" y="422" width="1" height="26" fill="#000"/><rect x="1360" y="424" width="11" height="8" fill="#000"/><rect x="1361" y="425" width="9" height="6" fill="#00ff00"/><rect x="5" y="354" width="1636" height="2" fill="#ff0000"/><rect x="5" y="383" width="1636" height="2" fill="#dc143c"/><rect x="5" y="415" width="1636" height="2" fill="#ffa500"/><rect x="5" y="465" width="1636" height="2" fill="#0000ff"/><rect x="5" y="498" width="1636" height="2" fill="#0000ff"/><rect x="5" y="432" width="1636" height="1" fill="#000"/><line x1="1290" y1="355.5" x2="1396" y2="416.5" stroke="#509a30" stroke-width="3" shape-rendering="auto"/><path d="M1399.3 408 L1390.5 423.8 L1410.5 424.6 Z" fill="#509a30" shape-rendering="auto"/></g>
<rect x="4" y="352" width="6" height="6" fill="#ff0000"/><rect x="6" y="354" width="2" height="2" fill="#fff"/>
<rect x="1635" y="352" width="6" height="6" fill="#ff0000"/><rect x="1637" y="354" width="2" height="2" fill="#fff"/>
<rect x="4" y="381" width="6" height="6" fill="#dc143c"/><rect x="6" y="383" width="2" height="2" fill="#fff"/>
<rect x="1635" y="381" width="6" height="6" fill="#dc143c"/><rect x="1637" y="383" width="2" height="2" fill="#fff"/>
<rect x="4" y="413" width="6" height="6" fill="#ffa500"/><rect x="6" y="415" width="2" height="2" fill="#fff"/>
<rect x="1635" y="413" width="6" height="6" fill="#ffa500"/><rect x="1637" y="415" width="2" height="2" fill="#fff"/>
<rect x="4" y="463" width="6" height="6" fill="#0000ff"/><rect x="6" y="465" width="2" height="2" fill="#fff"/>
<rect x="1635" y="463" width="6" height="6" fill="#0000ff"/><rect x="1637" y="465" width="2" height="2" fill="#fff"/>
<rect x="4" y="496" width="6" height="6" fill="#0000ff"/><rect x="6" y="498" width="2" height="2" fill="#fff"/>
<rect x="1635" y="496" width="6" height="6" fill="#0000ff"/><rect x="1637" y="498" width="2" height="2" fill="#fff"/>
<path d="M8 29 L15 29 L11.5 33 Z" fill="#000" shape-rendering="auto"/>
<text x="19.40" y="34" font-size="10" fill="#000" text-rendering="geometricPrecision" stroke="#000" stroke-width="0.22" textLength="54.20" lengthAdjust="spacingAndGlyphs" xml:space="preserve" >USDJPY-,H4</text>
<text x="80.30" y="34" font-size="10" fill="#000" text-rendering="geometricPrecision" stroke="#000" stroke-width="0.22" textLength="140.30" lengthAdjust="spacingAndGlyphs" xml:space="preserve" >136.584 136.617 136.233 136.466</text>
<rect x="1642" y="37" width="2" height="1" fill="#000"/>
<text x="1646.35" y="41" font-size="10" fill="#000" text-rendering="geometricPrecision" stroke="#000" stroke-width="0.22" textLength="34.35" lengthAdjust="spacingAndGlyphs" xml:space="preserve" >142.480</text>
<rect x="1642" y="70" width="2" height="1" fill="#000"/>
<text x="1647.15" y="74" font-size="10" fill="#000" text-rendering="geometricPrecision" stroke="#000" stroke-width="0.22" textLength="32.75" lengthAdjust="spacingAndGlyphs" xml:space="preserve" >141.970</text>
<rect x="1642" y="103" width="2" height="1" fill="#000"/>
<text x="1647.15" y="107" font-size="10" fill="#000" text-rendering="geometricPrecision" stroke="#000" stroke-width="0.22" textLength="33.55" lengthAdjust="spacingAndGlyphs" xml:space="preserve" >141.475</text>
<rect x="1642" y="136" width="2" height="1" fill="#000"/>
<text x="1646.35" y="140" font-size="10" fill="#000" text-rendering="geometricPrecision" stroke="#000" stroke-width="0.22" textLength="34.35" lengthAdjust="spacingAndGlyphs" xml:space="preserve" >140.965</text>
<rect x="1642" y="169" width="2" height="1" fill="#000"/>
<text x="1647.15" y="173" font-size="10" fill="#000" text-rendering="geometricPrecision" stroke="#000" stroke-width="0.22" textLength="33.55" lengthAdjust="spacingAndGlyphs" xml:space="preserve" >140.470</text>
<rect x="1642" y="202" width="2" height="1" fill="#000"/>
<text x="1646.35" y="206" font-size="10" fill="#000" text-rendering="geometricPrecision" stroke="#000" stroke-width="0.22" textLength="34.35" lengthAdjust="spacingAndGlyphs" xml:space="preserve" >139.960</text>
<rect x="1642" y="235" width="2" height="1" fill="#000"/>
<text x="1646.35" y="239" font-size="10" fill="#000" text-rendering="geometricPrecision" stroke="#000" stroke-width="0.22" textLength="34.35" lengthAdjust="spacingAndGlyphs" xml:space="preserve" >139.465</text>
<rect x="1642" y="268" width="2" height="1" fill="#000"/>
<text x="1646.35" y="272" font-size="10" fill="#000" text-rendering="geometricPrecision" stroke="#000" stroke-width="0.22" textLength="34.35" lengthAdjust="spacingAndGlyphs" xml:space="preserve" >138.955</text>
<rect x="1642" y="301" width="2" height="1" fill="#000"/>
<text x="1646.35" y="305" font-size="10" fill="#000" text-rendering="geometricPrecision" stroke="#000" stroke-width="0.22" textLength="34.35" lengthAdjust="spacingAndGlyphs" xml:space="preserve" >138.460</text>
<rect x="1642" y="334" width="2" height="1" fill="#000"/>
<text x="1646.35" y="338" font-size="10" fill="#000" text-rendering="geometricPrecision" stroke="#000" stroke-width="0.22" textLength="34.35" lengthAdjust="spacingAndGlyphs" xml:space="preserve" >137.950</text>
<rect x="1642" y="367" width="2" height="1" fill="#000"/>
<text x="1647.15" y="371" font-size="10" fill="#000" text-rendering="geometricPrecision" stroke="#000" stroke-width="0.22" textLength="33.55" lengthAdjust="spacingAndGlyphs" xml:space="preserve" >137.455</text>
<rect x="1642" y="400" width="2" height="1" fill="#000"/>
<text x="1646.35" y="404" font-size="10" fill="#000" text-rendering="geometricPrecision" stroke="#000" stroke-width="0.22" textLength="34.35" lengthAdjust="spacingAndGlyphs" xml:space="preserve" >136.945</text>
<rect x="1642" y="532" width="2" height="1" fill="#000"/>
<text x="1646.35" y="536" font-size="10" fill="#000" text-rendering="geometricPrecision" stroke="#000" stroke-width="0.22" textLength="34.35" lengthAdjust="spacingAndGlyphs" xml:space="preserve" >134.935</text>
<rect x="1642" y="565" width="2" height="1" fill="#000"/>
<text x="1647.15" y="569" font-size="10" fill="#000" text-rendering="geometricPrecision" stroke="#000" stroke-width="0.22" textLength="32.75" lengthAdjust="spacingAndGlyphs" xml:space="preserve" >134.440</text>
<rect x="1642" y="598" width="2" height="1" fill="#000"/>
<text x="1646.35" y="602" font-size="10" fill="#000" text-rendering="geometricPrecision" stroke="#000" stroke-width="0.22" textLength="34.35" lengthAdjust="spacingAndGlyphs" xml:space="preserve" >133.930</text>
<rect x="1642" y="631" width="2" height="1" fill="#000"/>
<text x="1646.35" y="635" font-size="10" fill="#000" text-rendering="geometricPrecision" stroke="#000" stroke-width="0.22" textLength="34.35" lengthAdjust="spacingAndGlyphs" xml:space="preserve" >133.435</text>
<rect x="1643" y="349" width="41" height="11" fill="#ff0000"/>
<text x="1647.20" y="358" font-size="10" fill="#fff" text-rendering="geometricPrecision" stroke="#fff" stroke-width="0.22" textLength="32.30" lengthAdjust="spacingAndGlyphs" xml:space="preserve" >137.632</text>
<rect x="1643" y="378" width="41" height="11" fill="#dc143c"/>
<text x="1647.20" y="387" font-size="10" fill="#fff" text-rendering="geometricPrecision" stroke="#fff" stroke-width="0.22" textLength="32.30" lengthAdjust="spacingAndGlyphs" xml:space="preserve" >137.191</text>
<rect x="1643" y="410" width="41" height="11" fill="#ffa500"/>
<text x="1647.20" y="419" font-size="10" fill="#fff" text-rendering="geometricPrecision" stroke="#fff" stroke-width="0.22" textLength="32.30" lengthAdjust="spacingAndGlyphs" xml:space="preserve" >136.705</text>
<rect x="1643" y="427" width="41" height="11" fill="#000000"/>
<text x="1647.20" y="436" font-size="10" fill="#fff" text-rendering="geometricPrecision" stroke="#fff" stroke-width="0.22" textLength="32.30" lengthAdjust="spacingAndGlyphs" xml:space="preserve" >136.466</text>
<rect x="1643" y="460" width="41" height="11" fill="#0000ff"/>
<text x="1647.20" y="469" font-size="10" fill="#fff" text-rendering="geometricPrecision" stroke="#fff" stroke-width="0.22" textLength="32.30" lengthAdjust="spacingAndGlyphs" xml:space="preserve" >135.944</text>
<rect x="1643" y="493" width="41" height="11" fill="#0000ff"/>
<text x="1647.20" y="502" font-size="10" fill="#fff" text-rendering="geometricPrecision" stroke="#fff" stroke-width="0.22" textLength="32.30" lengthAdjust="spacingAndGlyphs" xml:space="preserve" >135.443</text>
<g clip-path="url(#cmacd)"><rect x="4" y="654" width="3" height="12" fill="#00ff00"/><rect x="20" y="648" width="3" height="18" fill="#00ff00"/><rect x="36" y="646" width="3" height="20" fill="#00ff00"/><rect x="52" y="643" width="3" height="23" fill="#00ff00"/><rect x="68" y="644" width="3" height="22" fill="#00ff00"/><rect x="84" y="645" width="3" height="21" fill="#00ff00"/><rect x="100" y="646" width="3" height="20" fill="#00ff00"/><rect x="116" y="648" width="3" height="18" fill="#00ff00"/><rect x="132" y="650" width="3" height="16" fill="#00ff00"/><rect x="148" y="650" width="3" height="16" fill="#00ff00"/><rect x="164" y="652" width="3" height="14" fill="#00ff00"/><rect x="180" y="652" width="3" height="14" fill="#00ff00"/><rect x="196" y="661" width="3" height="5" fill="#00ff00"/><rect x="212" y="666" width="3" height="4" fill="#00ff00"/><rect x="228" y="666" width="3" height="11" fill="#00ff00"/><rect x="244" y="666" width="3" height="19" fill="#00ff00"/><rect x="260" y="666" width="3" height="24" fill="#00ff00"/><rect x="276" y="666" width="3" height="30" fill="#00ff00"/><rect x="292" y="666" width="3" height="35" fill="#00ff00"/><rect x="308" y="666" width="3" height="37" fill="#00ff00"/><rect x="324" y="666" width="3" height="38" fill="#00ff00"/><rect x="340" y="666" width="3" height="39" fill="#00ff00"/><rect x="356" y="666" width="3" height="38" fill="#00ff00"/><rect x="372" y="666" width="3" height="32" fill="#00ff00"/><rect x="388" y="666" width="3" height="30" fill="#00ff00"/><rect x="404" y="666" width="3" height="29" fill="#00ff00"/><rect x="420" y="666" width="3" height="26" fill="#00ff00"/><rect x="436" y="666" width="3" height="27" fill="#00ff00"/><rect x="452" y="666" width="3" height="29" fill="#00ff00"/><rect x="468" y="666" width="3" height="30" fill="#00ff00"/><rect x="484" y="666" width="3" height="29" fill="#00ff00"/><rect x="500" y="666" width="3" height="27" fill="#00ff00"/><rect x="516" y="666" width="3" height="25" fill="#00ff00"/><rect x="532" y="666" width="3" height="25" fill="#00ff00"/><rect x="548" y="666" width="3" height="25" fill="#00ff00"/><rect x="564" y="666" width="3" height="25" fill="#00ff00"/><rect x="580" y="666" width="3" height="25" fill="#00ff00"/><rect x="596" y="666" width="3" height="24" fill="#00ff00"/><rect x="612" y="666" width="3" height="22" fill="#00ff00"/><rect x="628" y="666" width="3" height="19" fill="#00ff00"/><rect x="644" y="666" width="3" height="18" fill="#00ff00"/><rect x="660" y="666" width="3" height="17" fill="#00ff00"/><rect x="676" y="666" width="3" height="11" fill="#00ff00"/><rect x="692" y="666" width="3" height="14" fill="#00ff00"/><rect x="708" y="666" width="3" height="18" fill="#00ff00"/><rect x="724" y="666" width="3" height="26" fill="#00ff00"/><rect x="740" y="666" width="3" height="32" fill="#00ff00"/><rect x="756" y="666" width="3" height="37" fill="#00ff00"/><rect x="772" y="666" width="3" height="43" fill="#00ff00"/><rect x="788" y="666" width="3" height="50" fill="#00ff00"/><rect x="804" y="666" width="3" height="55" fill="#00ff00"/><rect x="820" y="666" width="3" height="59" fill="#00ff00"/><rect x="836" y="666" width="3" height="63" fill="#00ff00"/><rect x="852" y="666" width="3" height="69" fill="#00ff00"/><rect x="868" y="666" width="3" height="66" fill="#00ff00"/><rect x="884" y="666" width="3" height="68" fill="#00ff00"/><rect x="900" y="666" width="3" height="68" fill="#00ff00"/><rect x="916" y="666" width="3" height="68" fill="#00ff00"/><rect x="932" y="666" width="3" height="63" fill="#00ff00"/><rect x="948" y="666" width="3" height="59" fill="#00ff00"/><rect x="964" y="666" width="3" height="50" fill="#00ff00"/><rect x="980" y="666" width="3" height="40" fill="#00ff00"/><rect x="996" y="666" width="3" height="33" fill="#00ff00"/><rect x="1012" y="666" width="3" height="25" fill="#00ff00"/><rect x="1028" y="666" width="3" height="19" fill="#00ff00"/><rect x="1044" y="666" width="3" height="16" fill="#00ff00"/><rect x="1060" y="666" width="3" height="13" fill="#00ff00"/><rect x="1076" y="666" width="3" height="9" fill="#00ff00"/><rect x="1092" y="666" width="3" height="5" fill="#00ff00"/><rect x="1108" y="666" width="3" height="2" fill="#00ff00"/><rect x="1124" y="662" width="3" height="4" fill="#00ff00"/><rect x="1140" y="658" width="3" height="8" fill="#00ff00"/><rect x="1156" y="659" width="3" height="7" fill="#00ff00"/><rect x="1172" y="662" width="3" height="4" fill="#00ff00"/><rect x="1188" y="664" width="3" height="2" fill="#00ff00"/><rect x="1204" y="664" width="3" height="2" fill="#00ff00"/><rect x="1220" y="664" width="3" height="2" fill="#00ff00"/><rect x="1236" y="664" width="3" height="2" fill="#00ff00"/><rect x="1252" y="664" width="3" height="2" fill="#00ff00"/><rect x="1268" y="665" width="3" height="1" fill="#00ff00"/><rect x="1284" y="664" width="3" height="2" fill="#00ff00"/><rect x="1300" y="666" width="3" height="4" fill="#00ff00"/><rect x="1316" y="666" width="3" height="4" fill="#00ff00"/><rect x="1332" y="666" width="3" height="7" fill="#00ff00"/><rect x="1348" y="666" width="3" height="6" fill="#00ff00"/><rect x="1364" y="666" width="3" height="5" fill="#00ff00"/><polyline points="5,672 35.5,664.4 71,655.5 106.6,649.3 142,647 165,647 195,649.9 231,656.4 266.4,667 290,673.7 307.8,681.3 325.5,687.5 343.3,692 357.5,695.5 373.5,697.3 382.4,698.5 437.4,698.5 453.4,697.3 469.4,696 485.4,695 501.4,693.9 517.4,692.8 534.2,692 612.9,692 629.7,689.8 659.9,688.4 677.7,685.7 710.5,683.6 724.8,683.6 740.7,685.4 757.6,687.5 773.6,689.3 789.6,693.7 805.6,697.3 821.6,702.6 837.5,708.8 853.5,713.3 869.5,718.6 885.1,722.7 901.1,725.7 917.1,728.4 933.1,729.6 965,729.6 981,726.6 997,722.7 1013,718 1029,712 1045,707.9 1061,700.8 1077,693.7 1093,687.5 1109,683 1124.9,678.3 1140.9,674.2 1151.5,672.1 1155,671.2 1161.5,670.1 1170,669.1 1178,668 1186,667.1 1194,666 1202,665 1214,663.9 1238,663 1262,661.9 1278,663 1294,663.9 1310,665 1326,666 1342,667.1 1358,668 1366,668" fill="none" stroke="#ff0000" stroke-width="2" shape-rendering="crispEdges" stroke-linejoin="round"/></g>
<text x="9.00" y="649" font-size="10" fill="#000" text-rendering="geometricPrecision" stroke="#000" stroke-width="0.22" textLength="133.60" lengthAdjust="spacingAndGlyphs" xml:space="preserve" >MACD(12,26,9) -0.0728 -0.0241</text>
<text x="1644.50" y="647" font-size="10" fill="#000" text-rendering="geometricPrecision" stroke="#000" stroke-width="0.22" textLength="29.00" lengthAdjust="spacingAndGlyphs" xml:space="preserve" >0.4924</text>
<rect x="1642" y="666" width="2" height="1" fill="#000"/>
<text x="1644.50" y="670" font-size="10" fill="#000" text-rendering="geometricPrecision" stroke="#000" stroke-width="0.22" textLength="19.00" lengthAdjust="spacingAndGlyphs" xml:space="preserve" >0.00</text>
<text x="1644.50" y="736" font-size="10" fill="#000" text-rendering="geometricPrecision" stroke="#000" stroke-width="0.22" textLength="31.20" lengthAdjust="spacingAndGlyphs" xml:space="preserve" >-1.2396</text>
<g clip-path="url(#crsi)"><line x1="6" y1="760.5" x2="1641" y2="760.5" stroke="#000" stroke-width="1" stroke-dasharray="3,3"/><line x1="6" y1="787.5" x2="1641" y2="787.5" stroke="#000" stroke-width="1" stroke-dasharray="3,3"/><line x1="6" y1="818.5" x2="1641" y2="818.5" stroke="#000" stroke-width="1" stroke-dasharray="3,3"/><polyline points="5,772.7 21,771.5 37,771.5 53,776.9 69,776.9 85,783.5 101,782.9 117,784.5 133,784.5 149,782.9 165,784.5 181,782.9 197,798.6 213,800.7 229,800.7 245,804.6 261,801.5 277,804.6 293,804.6 309,803.2 325,800.7 341,800.1 357,798.6 373,789.7 389,792.2 405,793.9 421,790.4 437,796.4 453,798 469,800.1 485,791.8 501,791.8 517,793.5 533,794.3 549,797.4 565,799.1 581,794.9 597,790.8 613,789.7 629,789.3 645,791.8 661,789.3 677,781.4 693,795.5 709,799.5 725,802.2 741,803.2 757,805.5 773,805.9 789,809.4 805,809.4 821,810 837,812.5 853,813.6 869,798.6 885,802.6 901,802.6 917,802.2 933,795.5 949,795.5 965,786.6 981,785 997,784.5 1013,782.9 1029,782.9 1045,787.7 1061,785 1077,783.9 1093,783.9 1109,782.1 1125,779.8 1141,778.7 1157,787.2 1173,789.7 1189,789.7 1205,786 1221,786.6 1237,786.6 1253,788.1 1269,788.1 1285,786.6 1301,793.9 1317,789.7 1333,792.8 1349,786.6 1365,786.6" fill="none" stroke="#1e90ff" stroke-width="2" shape-rendering="crispEdges" stroke-linejoin="round"/></g>
<text x="8.70" y="754" font-size="10" fill="#000" text-rendering="geometricPrecision" stroke="#000" stroke-width="0.22" textLength="68.80" lengthAdjust="spacingAndGlyphs" xml:space="preserve" >RSI(14) 49.4459</text>
<text x="1644.90" y="752" font-size="10" fill="#000" text-rendering="geometricPrecision" stroke="#000" stroke-width="0.22" textLength="14.80" lengthAdjust="spacingAndGlyphs" xml:space="preserve" >100</text>
<text x="1644.00" y="764" font-size="10" fill="#000" text-rendering="geometricPrecision" stroke="#000" stroke-width="0.22" textLength="9.70" lengthAdjust="spacingAndGlyphs" xml:space="preserve" >80</text>
<text x="1644.60" y="791" font-size="10" fill="#000" text-rendering="geometricPrecision" stroke="#000" stroke-width="0.22" textLength="9.10" lengthAdjust="spacingAndGlyphs" xml:space="preserve" >50</text>
<text x="1643.90" y="822" font-size="10" fill="#000" text-rendering="geometricPrecision" stroke="#000" stroke-width="0.22" textLength="9.80" lengthAdjust="spacingAndGlyphs" xml:space="preserve" >15</text>
<text x="1644.30" y="829" font-size="10" fill="#000" text-rendering="geometricPrecision" stroke="#000" stroke-width="0.22" textLength="6.20" lengthAdjust="spacingAndGlyphs" xml:space="preserve" >0</text>
<rect x="1642" y="760" width="2" height="1" fill="#000"/>
<rect x="1642" y="787" width="2" height="1" fill="#000"/>
<rect x="1642" y="818" width="2" height="1" fill="#000"/>
<rect x="5" y="833" width="1" height="3" fill="#000"/>
<text x="3.75" y="845" font-size="10" fill="#000" text-rendering="geometricPrecision" stroke="#000" stroke-width="0.22" textLength="54.45" lengthAdjust="spacingAndGlyphs" xml:space="preserve" >21 Nov 2022</text>
<rect x="69" y="833" width="1" height="3" fill="#000"/>
<text x="67.40" y="845" font-size="10" fill="#000" text-rendering="geometricPrecision" stroke="#000" stroke-width="0.22" textLength="58.20" lengthAdjust="spacingAndGlyphs" xml:space="preserve" >22 Nov 04:00</text>
<rect x="133" y="833" width="1" height="3" fill="#000"/>
<text x="131.40" y="845" font-size="10" fill="#000" text-rendering="geometricPrecision" stroke="#000" stroke-width="0.22" textLength="58.20" lengthAdjust="spacingAndGlyphs" xml:space="preserve" >22 Nov 20:00</text>
<rect x="197" y="833" width="1" height="3" fill="#000"/>
<text x="195.40" y="845" font-size="10" fill="#000" text-rendering="geometricPrecision" stroke="#000" stroke-width="0.22" textLength="58.20" lengthAdjust="spacingAndGlyphs" xml:space="preserve" >23 Nov 12:00</text>
<rect x="261" y="833" width="1" height="3" fill="#000"/>
<text x="259.40" y="845" font-size="10" fill="#000" text-rendering="geometricPrecision" stroke="#000" stroke-width="0.22" textLength="58.20" lengthAdjust="spacingAndGlyphs" xml:space="preserve" >24 Nov 04:00</text>
<rect x="325" y="833" width="1" height="3" fill="#000"/>
<text x="323.40" y="845" font-size="10" fill="#000" text-rendering="geometricPrecision" stroke="#000" stroke-width="0.22" textLength="58.20" lengthAdjust="spacingAndGlyphs" xml:space="preserve" >24 Nov 20:00</text>
<rect x="389" y="833" width="1" height="3" fill="#000"/>
<text x="387.40" y="845" font-size="10" fill="#000" text-rendering="geometricPrecision" stroke="#000" stroke-width="0.22" textLength="58.20" lengthAdjust="spacingAndGlyphs" xml:space="preserve" >25 Nov 12:00</text>
<rect x="453" y="833" width="1" height="3" fill="#000"/>
<text x="451.40" y="845" font-size="10" fill="#000" text-rendering="geometricPrecision" stroke="#000" stroke-width="0.22" textLength="58.20" lengthAdjust="spacingAndGlyphs" xml:space="preserve" >28 Nov 04:00</text>
<rect x="517" y="833" width="1" height="3" fill="#000"/>
<text x="515.40" y="845" font-size="10" fill="#000" text-rendering="geometricPrecision" stroke="#000" stroke-width="0.22" textLength="58.20" lengthAdjust="spacingAndGlyphs" xml:space="preserve" >28 Nov 20:00</text>
<rect x="581" y="833" width="1" height="3" fill="#000"/>
<text x="579.40" y="845" font-size="10" fill="#000" text-rendering="geometricPrecision" stroke="#000" stroke-width="0.22" textLength="58.20" lengthAdjust="spacingAndGlyphs" xml:space="preserve" >29 Nov 12:00</text>
<rect x="645" y="833" width="1" height="3" fill="#000"/>
<text x="643.40" y="845" font-size="10" fill="#000" text-rendering="geometricPrecision" stroke="#000" stroke-width="0.22" textLength="58.20" lengthAdjust="spacingAndGlyphs" xml:space="preserve" >30 Nov 04:00</text>
<rect x="709" y="833" width="1" height="3" fill="#000"/>
<text x="707.40" y="845" font-size="10" fill="#000" text-rendering="geometricPrecision" stroke="#000" stroke-width="0.22" textLength="58.20" lengthAdjust="spacingAndGlyphs" xml:space="preserve" >30 Nov 20:00</text>
<rect x="773" y="833" width="1" height="3" fill="#000"/>
<text x="771.90" y="845" font-size="10" fill="#000" text-rendering="geometricPrecision" stroke="#000" stroke-width="0.22" textLength="49.40" lengthAdjust="spacingAndGlyphs" xml:space="preserve" >1 Dec 12:00</text>
<rect x="837" y="833" width="1" height="3" fill="#000"/>
<text x="835.30" y="845" font-size="10" fill="#000" text-rendering="geometricPrecision" stroke="#000" stroke-width="0.22" textLength="49.90" lengthAdjust="spacingAndGlyphs" xml:space="preserve" >2 Dec 04:00</text>
<rect x="901" y="833" width="1" height="3" fill="#000"/>
<text x="899.30" y="845" font-size="10" fill="#000" text-rendering="geometricPrecision" stroke="#000" stroke-width="0.22" textLength="49.90" lengthAdjust="spacingAndGlyphs" xml:space="preserve" >4 Dec 23:00</text>
<rect x="965" y="833" width="1" height="3" fill="#000"/>
<text x="963.30" y="845" font-size="10" fill="#000" text-rendering="geometricPrecision" stroke="#000" stroke-width="0.22" textLength="49.90" lengthAdjust="spacingAndGlyphs" xml:space="preserve" >5 Dec 12:00</text>
<rect x="1029" y="833" width="1" height="3" fill="#000"/>
<text x="1027.30" y="845" font-size="10" fill="#000" text-rendering="geometricPrecision" stroke="#000" stroke-width="0.22" textLength="49.90" lengthAdjust="spacingAndGlyphs" xml:space="preserve" >6 Dec 04:00</text>
<rect x="1093" y="833" width="1" height="3" fill="#000"/>
<text x="1091.30" y="845" font-size="10" fill="#000" text-rendering="geometricPrecision" stroke="#000" stroke-width="0.22" textLength="49.90" lengthAdjust="spacingAndGlyphs" xml:space="preserve" >6 Dec 20:00</text>
<rect x="1157" y="833" width="1" height="3" fill="#000"/>
<text x="1155.30" y="845" font-size="10" fill="#000" text-rendering="geometricPrecision" stroke="#000" stroke-width="0.22" textLength="49.90" lengthAdjust="spacingAndGlyphs" xml:space="preserve" >7 Dec 12:00</text>
<rect x="1221" y="833" width="1" height="3" fill="#000"/>
<text x="1219.30" y="845" font-size="10" fill="#000" text-rendering="geometricPrecision" stroke="#000" stroke-width="0.22" textLength="49.90" lengthAdjust="spacingAndGlyphs" xml:space="preserve" >8 Dec 04:00</text>
<rect x="1285" y="833" width="1" height="3" fill="#000"/>
<text x="1283.30" y="845" font-size="10" fill="#000" text-rendering="geometricPrecision" stroke="#000" stroke-width="0.22" textLength="49.90" lengthAdjust="spacingAndGlyphs" xml:space="preserve" >8 Dec 20:00</text>
<rect x="1349" y="833" width="1" height="3" fill="#000"/>
<text x="1347.30" y="845" font-size="10" fill="#000" text-rendering="geometricPrecision" stroke="#000" stroke-width="0.22" textLength="49.90" lengthAdjust="spacingAndGlyphs" xml:space="preserve" >9 Dec 12:00</text>
</svg></body></html>
